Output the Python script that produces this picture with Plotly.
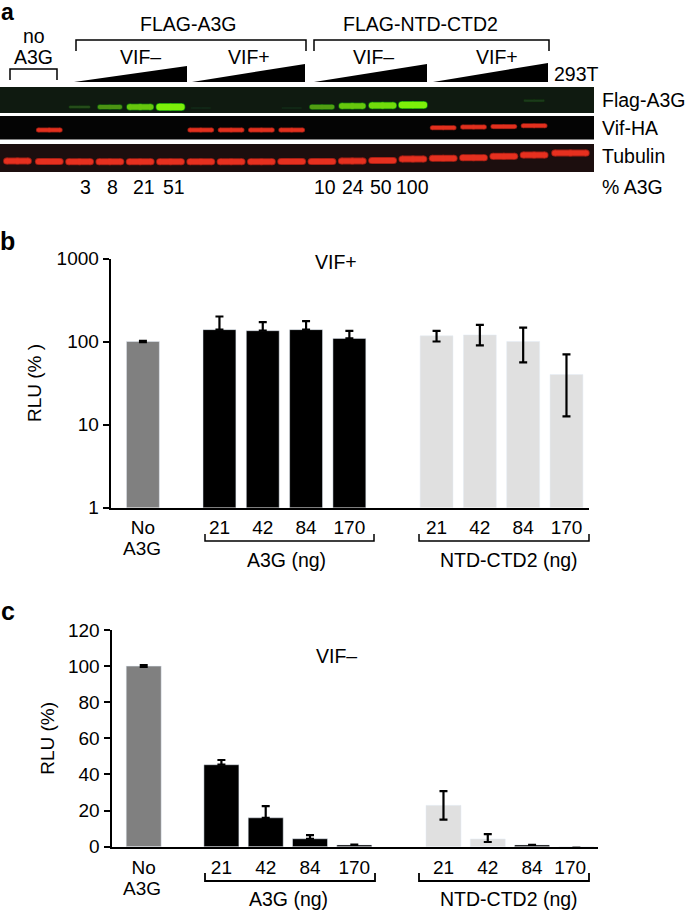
import plotly.graph_objects as go

W, H = 685, 910
FONT = "Liberation Sans"

# panel b, VIF+
b_none = [100]
b_none_hi = [2]
b_none_lo = [2]
b_a3g = [139, 135, 139, 109]
b_a3g_hi = [61, 36, 37, 25]
b_ntd = [117, 120, 100, 40]
b_ntd_hi = [17, 39, 47, 30]
b_ntd_lo = [17, 30, 44, 27.5]

# panel c, VIF-
c_none = [100]
c_none_err = [0.5]
c_a3g = [45.4, 16, 4.4, 1]
c_a3g_hi = [2.6, 6.5, 2, 0.2]
c_ntd = [22.9, 4.3, 1, -0.5]
c_ntd_hi = [7.9, 2.7, 0, 0]
c_ntd_lo = [7.9, 1.7, 0, 0]

doses = ["21", "42", "84", "170"]

# panel a, blot lanes and band strengths
flag_lanes = [2, 3, 4, 5, 6, 9, 10, 11, 12, 13, 17]
flag_y = [107, 107, 107, 107, 108, 108, 107, 106, 105.5, 105, 100.7]
flag_strength = [0.2, 0.55, 0.8, 1.0, 0.02, 0.03, 0.6, 0.8, 0.9, 1.0, 0.12]
vif_lanes = [1, 6, 7, 8, 9, 14, 15, 16, 17]
vif_y = [130, 130, 130, 130, 130, 127.7, 127, 126.6, 125.7]
tub_lanes = [-0.05, 1, 2, 3, 4, 5, 6, 7, 8, 9, 10, 11, 12, 13, 14, 15, 16, 17, 18.2]
tub_y = [161, 161.5, 161.7, 161.7, 161.7, 161.7, 161.7, 161.7, 161.7, 161.5, 161.5, 161, 160.5, 159, 158.3, 157.7, 156.3, 155, 153]
pct_a3g = ["3", "8", "21", "51", "10", "24", "50", "100"]
pct_x = [85, 113, 144, 174, 325, 353, 381, 413]


def px(y):
    return 1 - y / H


def fx(x):
    return x / W


fig = go.Figure()


# bars for one of the two charts
def add_bars(xa, ya, none, none_hi, none_lo, a3g, a3g_hi, ntd, ntd_hi, ntd_lo, offs, bw, ntd_colours):
    common = dict(xaxis=xa, yaxis=ya, width=bw, showlegend=False, cliponaxis=False)
    err = dict(type="data", color="black", thickness=2.2, width=4)
    fig.add_trace(go.Bar(x=[0], y=none, marker_color="#808080",
                         error_y=dict(err, array=none_hi, arrayminus=none_lo), **common))
    fig.add_trace(go.Bar(x=[offs[0] + i for i in range(4)], y=a3g, marker_color="black",
                         error_y=dict(err, array=a3g_hi, arrayminus=[0] * 4), **common))
    fig.add_trace(go.Bar(x=[offs[1] + i for i in range(4)], y=ntd, marker_color=ntd_colours,
                         error_y=dict(err, array=ntd_hi, arrayminus=ntd_lo), **common))


add_bars("x", "y", b_none, b_none_hi, b_none_lo, b_a3g, b_a3g_hi, b_ntd, b_ntd_hi, b_ntd_lo,
         (1.767, 6.78), 0.76, "#e0e0e0")
add_bars("x2", "y2", c_none, c_none_err, c_none_err, c_a3g, c_a3g_hi, c_ntd, c_ntd_hi, c_ntd_lo,
         (1.754, 6.767), 0.79, ["#e0e0e0", "#e0e0e0", "black", "#d8d8d8"])


# a blot band: dim halo plus bright core
def add_band(lane, y, width, halo, core, halo_w, core_w):
    for colour, lw in ((halo, halo_w), (core, core_w)):
        fig.add_trace(go.Scatter(x=[lane - width, lane, lane + width], y=[y, y, y],
                                 mode="lines+markers", line=dict(color=colour, width=lw),
                                 marker=dict(color=colour, size=lw, line_width=0),
                                 xaxis="x3", yaxis="y3", showlegend=False, hoverinfo="skip"))


for lane, y, s in zip(flag_lanes, flag_y, flag_strength):
    g = int(35 + 205 * s)
    add_band(lane, y, 0.3 + 0.06 * s, f"rgb(18,{g // 2 + 20},14)", f"rgb({int(110 * s) + 15},{g},{int(20 * (1 - s)) + 10})",
             2 + 6 * s, 1 + 5.5 * s)
for lane, y in zip(vif_lanes, vif_y):
    add_band(lane, y, 0.36, "#8c1c12", "#e2301e", 5, 3.5)
for lane, y in zip(tub_lanes, tub_y):
    add_band(lane, y, 0.36 if lane < 18 else 0.52, "#a01e14", "#e6301f", 7, 5.2)

shapes = []


def rect(x0, y0, x1, y1, colour):
    shapes.append(dict(type="rect", xref="paper", yref="paper", x0=fx(x0), x1=fx(x1), y0=px(y0), y1=px(y1),
                       fillcolor=colour, line_width=0, layer="below"))


def poly(points, width=1.5, fill=None):
    d = "M" + " L".join(f"{fx(x):.5f},{px(y):.5f}" for x, y in points)
    s = dict(type="path", xref="paper", yref="paper", path=d + (" Z" if fill else ""),
             line=dict(color="black", width=width if not fill else 0))
    if fill:
        s["fillcolor"] = fill
    shapes.append(s)


def bracket(x0, x1, y_line, y_tip, width=1.5):
    poly([(x0, y_tip), (x0, y_line), (x1, y_line), (x1, y_tip)], width)


# blots
rect(0, 87, 594, 113, "#0f1a10")
rect(0, 116, 594, 139.5, "#040404")
rect(0, 144, 594, 172, "#1c0e0e")

# brackets and wedges in panel a
bracket(10, 57, 69, 80)
bracket(76, 306, 40, 51)
bracket(314, 549, 40, 51)
for x0, x1, top in [(74, 187, 66), (192, 305, 64), (314, 427, 64), (433, 548, 63)]:
    poly([(x0, 82), (x1, top), (x1, 82)], fill="black")

# brackets under the bar charts
bracket(205, 374, 541, 534)
bracket(419, 589, 541, 534)
bracket(205, 375, 881, 873, 1.8)
bracket(419, 589, 881, 873, 1.8)

ann = []


def text(x, y, s, size=19.5, **kw):
    ann.append(dict(x=fx(x), y=px(y), xref="paper", yref="paper", text=s, showarrow=False,
                    font=dict(family=FONT, size=size, color="black"),
                    xanchor=kw.pop("xanchor", "center"), yanchor="middle", **kw))


text(7, 12, "<b>a</b>", 23)
text(8, 241, "<b>b</b>", 25)
text(8, 611, "<b>c</b>", 25)
text(188, 24, "FLAG-A3G")
text(420, 24, "FLAG-NTD-CTD2")
text(34, 36, "no")
text(33, 57, "A3G")
for x, s in [(140, "VIF–"), (249, "VIF+"), (373, "VIF–"), (497, "VIF+")]:
    text(x, 57, s)
text(576, 74, "293T")
text(600, 100, "Flag-A3G", xanchor="left")
text(600, 128, "Vif-HA", xanchor="left")
text(600, 156, "Tubulin", xanchor="left")
text(600, 187, "% A3G", xanchor="left")
for x, s in zip(pct_x, pct_a3g):
    text(x, 187, s)
text(336, 262, "VIF+")
text(336, 656, "VIF–")
text(142, 548, "A3G", 19)
text(142, 888, "A3G", 19)
text(286.5, 560, "A3G (ng)")
text(508.7, 560, "NTD-CTD2 (ng)")
text(288.5, 899, "A3G (ng)")
text(508.7, 899, "NTD-CTD2 (ng)")


def x_axis(dom, rng, offs, last_nudge):
    ticks = [0] + [offs[0] + i for i in range(4)] + [offs[1] + i for i in range(4)]
    ticks[-1] -= last_nudge
    return dict(domain=dom, range=rng, tickmode="array", showgrid=False, zeroline=False, automargin=False,
                tickvals=ticks, ticktext=["No"] + doses + doses, ticks="", showline=True,
                linecolor="black", linewidth=2.2,
                tickfont=dict(family=FONT, size=19, color="black"), ticklabelstandoff=2)


def y_axis(anchor, dom, title, standoff, **kw):
    return dict(domain=dom, anchor=anchor, showline=True, linecolor="black", linewidth=2, showgrid=False,
                zeroline=False, ticks="outside", ticklen=6, tickwidth=2, tickcolor="black", automargin=False,
                tickfont=dict(family=FONT, size=19, color="black"),
                title=dict(text=title, font=dict(family=FONT, size=19, color="black"), standoff=standoff), **kw)


fig.update_layout(
    width=W, height=H, margin=dict(l=0, r=0, t=0, b=0), autosize=False,
    paper_bgcolor="white", plot_bgcolor="white", showlegend=False, barmode="overlay",
    shapes=shapes, annotations=ann,
    xaxis=dict(x_axis([fx(110.7), fx(589)], [-0.744, 10.30], (1.767, 6.78), 0), anchor="y"),
    yaxis=y_axis("x", [px(507.5), px(258.5)], "RLU (% )", 10, type="log", range=[0, 3],
                 tickmode="array", tickvals=[1, 10, 100, 1000], ticktext=["1", "10", "100", "1000"]),
    xaxis2=dict(x_axis([fx(111.5), fx(598)], [-0.727, 10.255], (1.754, 6.767), 0.14), anchor="y2"),
    yaxis2=y_axis("x2", [px(846.7), px(630)], "RLU (%)", 8, range=[0, 120], tickmode="array",
                  tickvals=[0, 20, 40, 60, 80, 100, 120]),
    # panel a: x in lanes, y in picture rows
    xaxis3=dict(domain=[0, 1], range=[-0.627, 21.98], visible=False, anchor="y3", automargin=False),
    yaxis3=dict(domain=[px(190), 1], range=[190, 0], visible=False, anchor="x3", automargin=False),
)

fig.write_html("out.html", config=dict(displayModeBar=False),
               post_script="document.body.style.margin='0'")
